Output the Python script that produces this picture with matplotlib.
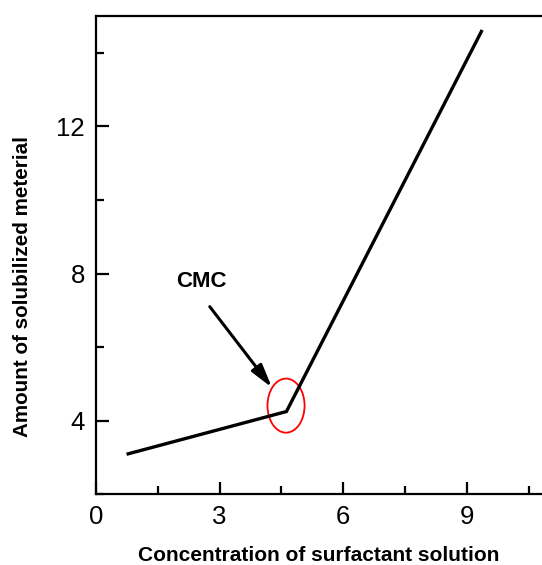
import matplotlib
matplotlib.use("Agg")
import matplotlib.pyplot as plt
from matplotlib.patches import Ellipse
from matplotlib.ticker import MultipleLocator

plt.rcParams['font.family'] = ['Liberation Sans', 'DejaVu Sans']

conc = [0.78, 4.62, 9.35]
amount = [3.10, 4.25, 14.58]
x_ticks = [0, 3, 6, 9]
y_ticks = [4, 8, 12]
cmc_label = "CMC"
cmc_center = (4.61, 4.41)

fig = plt.figure(figsize=(5.42, 5.65), dpi=100)
ax = fig.add_axes([96/542, 1-494.3/565, 1-96/542, (494.3-16)/565])

ax.plot(conc, amount, color='black', lw=2.4, solid_joinstyle='miter')

ax.add_patch(Ellipse(cmc_center, 0.90, 1.47, fill=False, edgecolor='red', lw=1.3))
ax.text(2.55, 7.50, cmc_label, fontsize=16, fontweight='bold', ha='center', va='bottom')
ax.annotate('', xy=(4.27, 4.90), xytext=(2.76, 7.10),
            arrowprops=dict(arrowstyle='-|>,head_length=1.4,head_width=0.38', color='black', lw=2.2,
                            shrinkA=0, shrinkB=0))

ax.set_xlim(0, 10.82)
ax.set_ylim(2, 15)
ax.set_xticks(x_ticks)
ax.set_yticks(y_ticks)
ax.xaxis.set_minor_locator(MultipleLocator(1.5))
ax.yaxis.set_minor_locator(MultipleLocator(2))

for s in ['left', 'bottom', 'top']:
    ax.spines[s].set_linewidth(1.6)
ax.spines['right'].set_visible(False)

ax.tick_params(which='major', direction='in', length=9, width=1.6, labelsize=18.5, pad=8)
ax.tick_params(which='minor', direction='in', length=5.5, width=1.6)
ax.tick_params(top=False, right=False, which='both')

ax.set_xlabel("Concentration of surfactant solution", fontsize=15, fontweight='bold', labelpad=12)
ax.set_ylabel("Amount of solubilized meterial", fontsize=14.9, fontweight='bold')
ax.yaxis.set_label_coords(-0.143, 0.435)

fig.savefig("out.png", dpi=100)
